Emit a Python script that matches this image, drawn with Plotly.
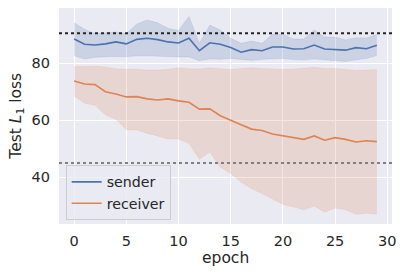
import plotly.graph_objects as go

epochs = list(range(30))

sender_mean = [88.5, 86.7, 86.4, 86.8, 87.5, 86.8, 88.4, 88.8, 88.3, 87.5,
               87.1, 88.8, 84.4, 87.2, 86.7, 85.5, 83.9, 84.8, 84.4, 85.7,
               85.7, 85.0, 85.1, 86.4, 85.0, 84.9, 84.6, 85.5, 85.1, 86.3]
sender_upper = [94.2, 91.9, 90.4, 90.7, 91.0, 90.4, 93.8, 95.2, 94.2, 92.3,
                91.5, 96.4, 87.0, 93.4, 91.7, 88.8, 87.0, 87.8, 87.0, 90.2,
                90.2, 88.5, 88.5, 91.7, 89.2, 89.2, 88.2, 89.0, 88.9, 90.1]
sender_lower = [82.6, 81.5, 82.1, 82.3, 82.4, 82.3, 82.6, 82.6, 82.4, 82.3,
                82.2, 82.2, 80.9, 81.5, 81.4, 81.7, 81.4, 81.0, 81.4, 81.5,
                81.7, 81.3, 81.2, 81.5, 81.2, 81.0, 80.6, 81.2, 81.7, 82.7]

receiver_mean = [73.8, 72.7, 72.5, 70.0, 69.2, 68.2, 68.3, 67.5, 67.1, 67.5,
                 66.8, 66.3, 63.9, 64.0, 61.6, 59.9, 58.4, 56.9, 56.4, 55.2,
                 54.5, 53.9, 53.3, 54.5, 53.0, 53.9, 53.3, 52.4, 52.8, 52.5]
receiver_upper = [78.9, 79.0, 79.0, 78.7, 78.1, 77.9, 77.9, 77.6, 77.6, 77.9,
                  78.4, 78.1, 78.0, 78.4, 78.0, 77.8, 78.2, 78.4, 78.2, 78.0,
                  77.9, 78.0, 78.2, 78.6, 78.2, 78.2, 77.9, 77.5, 77.6, 77.8]
receiver_lower = [68.5, 66.0, 65.3, 61.9, 60.4, 56.7, 56.6, 55.4, 54.5, 53.4,
                  53.4, 51.9, 46.3, 48.9, 43.5, 41.3, 38.3, 36.0, 34.3, 32.5,
                  30.5, 29.6, 28.6, 29.9, 27.7, 29.2, 28.6, 27.0, 27.4, 27.0]

baseline_high = 90.5
baseline_low = 45.0

blue = "#4C72B0"
orange = "#DD8452"
text_col = "#262626"

fig = go.Figure()

def add_series(name, mean, upper, lower, color, fill):
    fig.add_trace(go.Scatter(x=epochs, y=upper, mode="lines",
                             line=dict(width=0.6, color=fill), showlegend=False,
                             hoverinfo="skip"))
    fig.add_trace(go.Scatter(x=epochs, y=lower, mode="lines", fill="tonexty",
                             fillcolor=fill, line=dict(width=0.6, color=fill),
                             showlegend=False, hoverinfo="skip"))
    fig.add_trace(go.Scatter(x=epochs, y=mean, mode="lines", name=name,
                             line=dict(color=color, width=1.6)))

add_series("sender", sender_mean, sender_upper, sender_lower, blue,
           "rgba(76,114,176,0.2)")
add_series("receiver", receiver_mean, receiver_upper, receiver_lower, orange,
           "rgba(221,132,82,0.2)")

fig.add_hline(y=baseline_high, line=dict(color="#262626", width=2, dash="dot"))
fig.add_hline(y=baseline_low, line=dict(color="#808080", width=2, dash="dot"))

fig.update_layout(
    width=403, height=274,
    margin=dict(l=59, r=11, t=8, b=50),
    paper_bgcolor="white",
    plot_bgcolor="#EAEAF2",
    font=dict(family="DejaVu Sans", color=text_col, size=13),
    legend=dict(x=0.02, y=0.018, xanchor="left", yanchor="bottom",
                traceorder="normal", tracegroupgap=0,
                bgcolor="rgba(234,234,242,0.8)", bordercolor="#CCCCCC",
                borderwidth=1, font=dict(size=14.2), itemwidth=30),
    annotations=[
        dict(text="epoch", xref="paper", yref="paper", x=0.5, y=-0.157,
             xanchor="center", yanchor="middle", showarrow=False,
             font=dict(size=15.5)),
        dict(text="Test <i>L</i><sub>1</sub> loss", xref="paper", yref="paper",
             x=-0.127, y=0.5, xanchor="center", yanchor="middle",
             textangle=-90, showarrow=False, font=dict(size=15.5)),
    ],
)
fig.update_xaxes(range=[-1.45, 30.45], tickvals=[0, 5, 10, 15, 20, 25, 30],
                 showgrid=True, gridcolor="white", gridwidth=1.2,
                 zeroline=False, showline=False, ticks="", automargin=False,
                 ticklabelstandoff=6, tickfont=dict(size=14.5))
fig.update_yaxes(range=[23.6, 99.4], tickvals=[40, 60, 80],
                 showgrid=True, gridcolor="white", gridwidth=1.2,
                 zeroline=False, showline=False, ticks="", automargin=False,
                 ticklabelstandoff=8, tickfont=dict(size=14.5))

fig.write_html("out.html",
               config={"displayModeBar": False},
               post_script="document.body.style.margin='0';"
                           "document.body.style.overflow='hidden';")
